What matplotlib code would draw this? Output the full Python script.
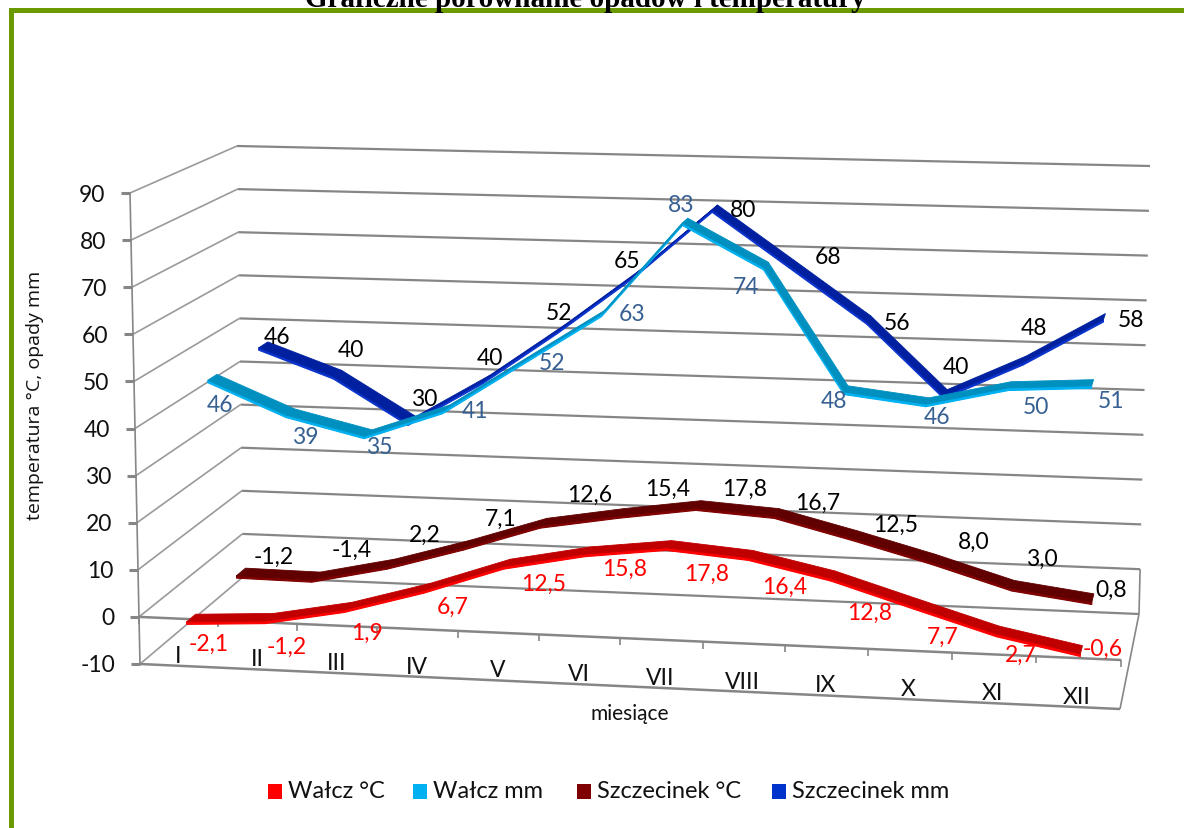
#!/usr/bin/env python3
# -*- coding: utf-8 -*-
"""Graficzne porownanie opadow i temperatury - pseudo-3D line chart"""

import numpy as np
import matplotlib
matplotlib.use("Agg")
import matplotlib.pyplot as plt
from matplotlib.patches import Rectangle

months = ["I", "II", "III", "IV", "V", "VI", "VII", "VIII", "IX", "X", "XI", "XII"]
y_ticks = [-10, 0, 10, 20, 30, 40, 50, 60, 70, 80, 90]

walcz_temp = [-2.1, -1.2, 1.9, 6.7, 12.5, 15.8, 17.8, 16.4, 12.8, 7.7, 2.7, -0.6]
walcz_rain = [46, 39, 35, 41, 52, 63, 83, 74, 48, 46, 50, 51]
szcz_temp = [-1.2, -1.4, 2.2, 7.1, 12.6, 15.4, 17.8, 16.7, 12.5, 8.0, 3.0, 0.8]
szcz_rain = [46, 40, 30, 40, 52, 65, 80, 68, 56, 40, 48, 58]

# where the data labels sit (pixels of the picture)
walcz_temp_pos = [(209, 644), (287, 647), (367, 633), (453, 607), (544, 584), (625, 569),
                  (707, 574), (785, 587), (870, 613), (943, 637), (1021, 655), (1103, 649)]
walcz_rain_pos = [(220, 406), (305, 438), (379, 448), (475, 412), (552, 363), (632, 314),
                  (681, 205), (746, 287), (834, 401), (937, 417), (1036, 407), (1111, 402)]
szcz_temp_pos = [(274, 557), (352, 550), (425, 535), (501, 519), (590, 495), (668, 489),
                 (745, 489), (818, 503), (896, 525), (974, 542), (1042, 559), (1111, 590)]
szcz_rain_pos = [(277, 337), (351, 350), (424, 399), (490, 358), (559, 313), (627, 261),
                 (743, 210), (828, 257), (897, 323), (956, 367), (1034, 328), (1131, 320)]

W, H = 1184, 829
plt.rcParams["font.family"] = ["Lato", "DejaVu Sans"]

# corners of the chart box in pixels: front / back, left / right, bottom / top
FLB, FLT = np.array([140., 665.]), np.array([130., 194.])
FRB, FRT = np.array([1120., 710.]), np.array([1132., 220.])
BLB, BLT = np.array([243., 578.]), np.array([237., 147.])
BRB, BRT = np.array([1139., 615.]), np.array([1150., 167.])


def project(m, v, d):
    """m: 0..12 along months, v: axis value, d: 0 front .. 1 back"""
    f = m / 12.0
    f = f / (f + 1.04 * (1 - f))  # months get wider to the right
    t = (v + 10) / 100.0
    lb = FLB + (BLB - FLB) * d
    lt = FLT + (BLT - FLT) * d
    rb = FRB + (BRB - FRB) * d
    rt = FRT + (BRT - FRT) * d
    bottom = lb + (rb - lb) * f
    top = lt + (rt - lt) * f
    return bottom + (top - bottom) * t


def gline(ax, p, q, lw=1.1, color="#868686"):
    ax.plot([p[0], q[0]], [p[1], q[1]], color=color, lw=lw, solid_capstyle="butt", zorder=1)


def ribbon(ax, values, depth, top_col, face_col, z):
    half = 0.045
    drop = 0.55
    for i in range(len(values) - 1):
        m0, m1 = i + 0.5, i + 1.5
        v0, v1 = values[i], values[i + 1]
        a = project(m0, v0, depth - half)
        b = project(m1, v1, depth - half)
        c = project(m1, v1, depth + half)
        e = project(m0, v0, depth + half)
        a2 = project(m0, v0 - drop, depth - half)
        b2 = project(m1, v1 - drop, depth - half)
        ax.fill([a[0], b[0], b2[0], a2[0]], [a[1], b[1], b2[1], a2[1]],
                color=face_col, lw=0.8, zorder=z)
        ax.fill([a[0], b[0], c[0], e[0]], [a[1], b[1], c[1], e[1]],
                color=top_col, lw=0.6, zorder=z + 0.1)


def labels(ax, values, pos, color, digits):
    for v, (x, y) in zip(values, pos):
        txt = f"{v:.{digits}f}".replace(".", ",")
        ax.text(x, y, txt, color=color, fontsize=16.5, ha="center", va="center", zorder=10)


fig = plt.figure(figsize=(W / 100, H / 100), dpi=100)
ax = fig.add_axes([0, 0, 1, 1])
ax.set_xlim(0, W)
ax.set_ylim(H, 0)
ax.axis("off")

# zielona ramka
green = "#6a9a00"
ax.add_patch(Rectangle((9, 9), W - 9, 5, color=green, lw=0))
ax.add_patch(Rectangle((9, 9), 4.5, H - 9, color=green, lw=0))

ax.text(585, 7, "Graficzne porównanie opadów i temperatury", family="Liberation Serif",
        weight="bold", fontsize=21, ha="center", va="baseline", color="black", clip_on=False)

# siatka
for v in y_ticks:
    front = project(0, v, 0)
    back = project(0, v, 1)
    right = project(12, v, 1)
    gline(ax, front, back, lw=1.2, color="#9a9a9a")
    gline(ax, back, right, lw=1.6)
    gline(ax, front, front - np.array([9, 0]), lw=2.2)
    ax.text(front[0] - 25, front[1] + 1, str(v), fontsize=16.5, ha="right", va="center", color="#111111")

gline(ax, project(0, -10, 0), project(0, 90, 0), lw=1.2)
gline(ax, project(0, -10, 0), project(12, -10, 0), lw=1.8)
gline(ax, project(12, -10, 0), project(12, -10, 1), lw=1.2)
gline(ax, project(12, -10, 1), project(12, 0, 1), lw=1.2)
gline(ax, project(0, 0, 0), project(12, 0, 0), lw=1.8)
for m in range(13):
    p = project(m, 0, 0)
    gline(ax, p, p + np.array([0, 7]), lw=1.2)

for i, name in enumerate(months):
    p = project(i + 0.5, -8, 0)
    ax.text(p[0] - 1, p[1] - 1, name, fontsize=16.5, ha="center", va="center", color="#111111")

# serie, od tylu do przodu
ribbon(ax, szcz_rain, 0.875, "#0020a0", "#0a33cc", 3)
ribbon(ax, szcz_temp, 0.625, "#600000", "#7f0000", 4)
ribbon(ax, walcz_rain, 0.375, "#0090c0", "#00b0f0", 5)
ribbon(ax, walcz_temp, 0.125, "#c00000", "#ff0000", 6)

labels(ax, szcz_rain, szcz_rain_pos, "black", 0)
labels(ax, walcz_rain, walcz_rain_pos, "#376092", 0)
labels(ax, szcz_temp, szcz_temp_pos, "black", 1)
labels(ax, walcz_temp, walcz_temp_pos, "#ff0000", 1)

ax.text(35, 395, "temperatura °C, opady mm", rotation=90, family="Open Sans", fontsize=14,
        ha="center", va="center", color="#111111")
ax.text(630, 714, "miesiące", fontsize=15, ha="center", va="center", color="#111111")

# legenda
legend_names = ["Wałcz °C", "Wałcz mm", "Szczecinek °C", "Szczecinek mm"]
legend_cols = ["#ff0000", "#00b0f0", "#7f0000", "#0033cc"]
legend_x = [268, 413, 577, 772]
for name, col, x in zip(legend_names, legend_cols, legend_x):
    ax.add_patch(Rectangle((x, 785), 14, 15, color=col, lw=0))
    ax.text(x + 20, 792, name, fontsize=17, ha="left", va="center", color="#111111")

fig.savefig("out.png", dpi=100)
